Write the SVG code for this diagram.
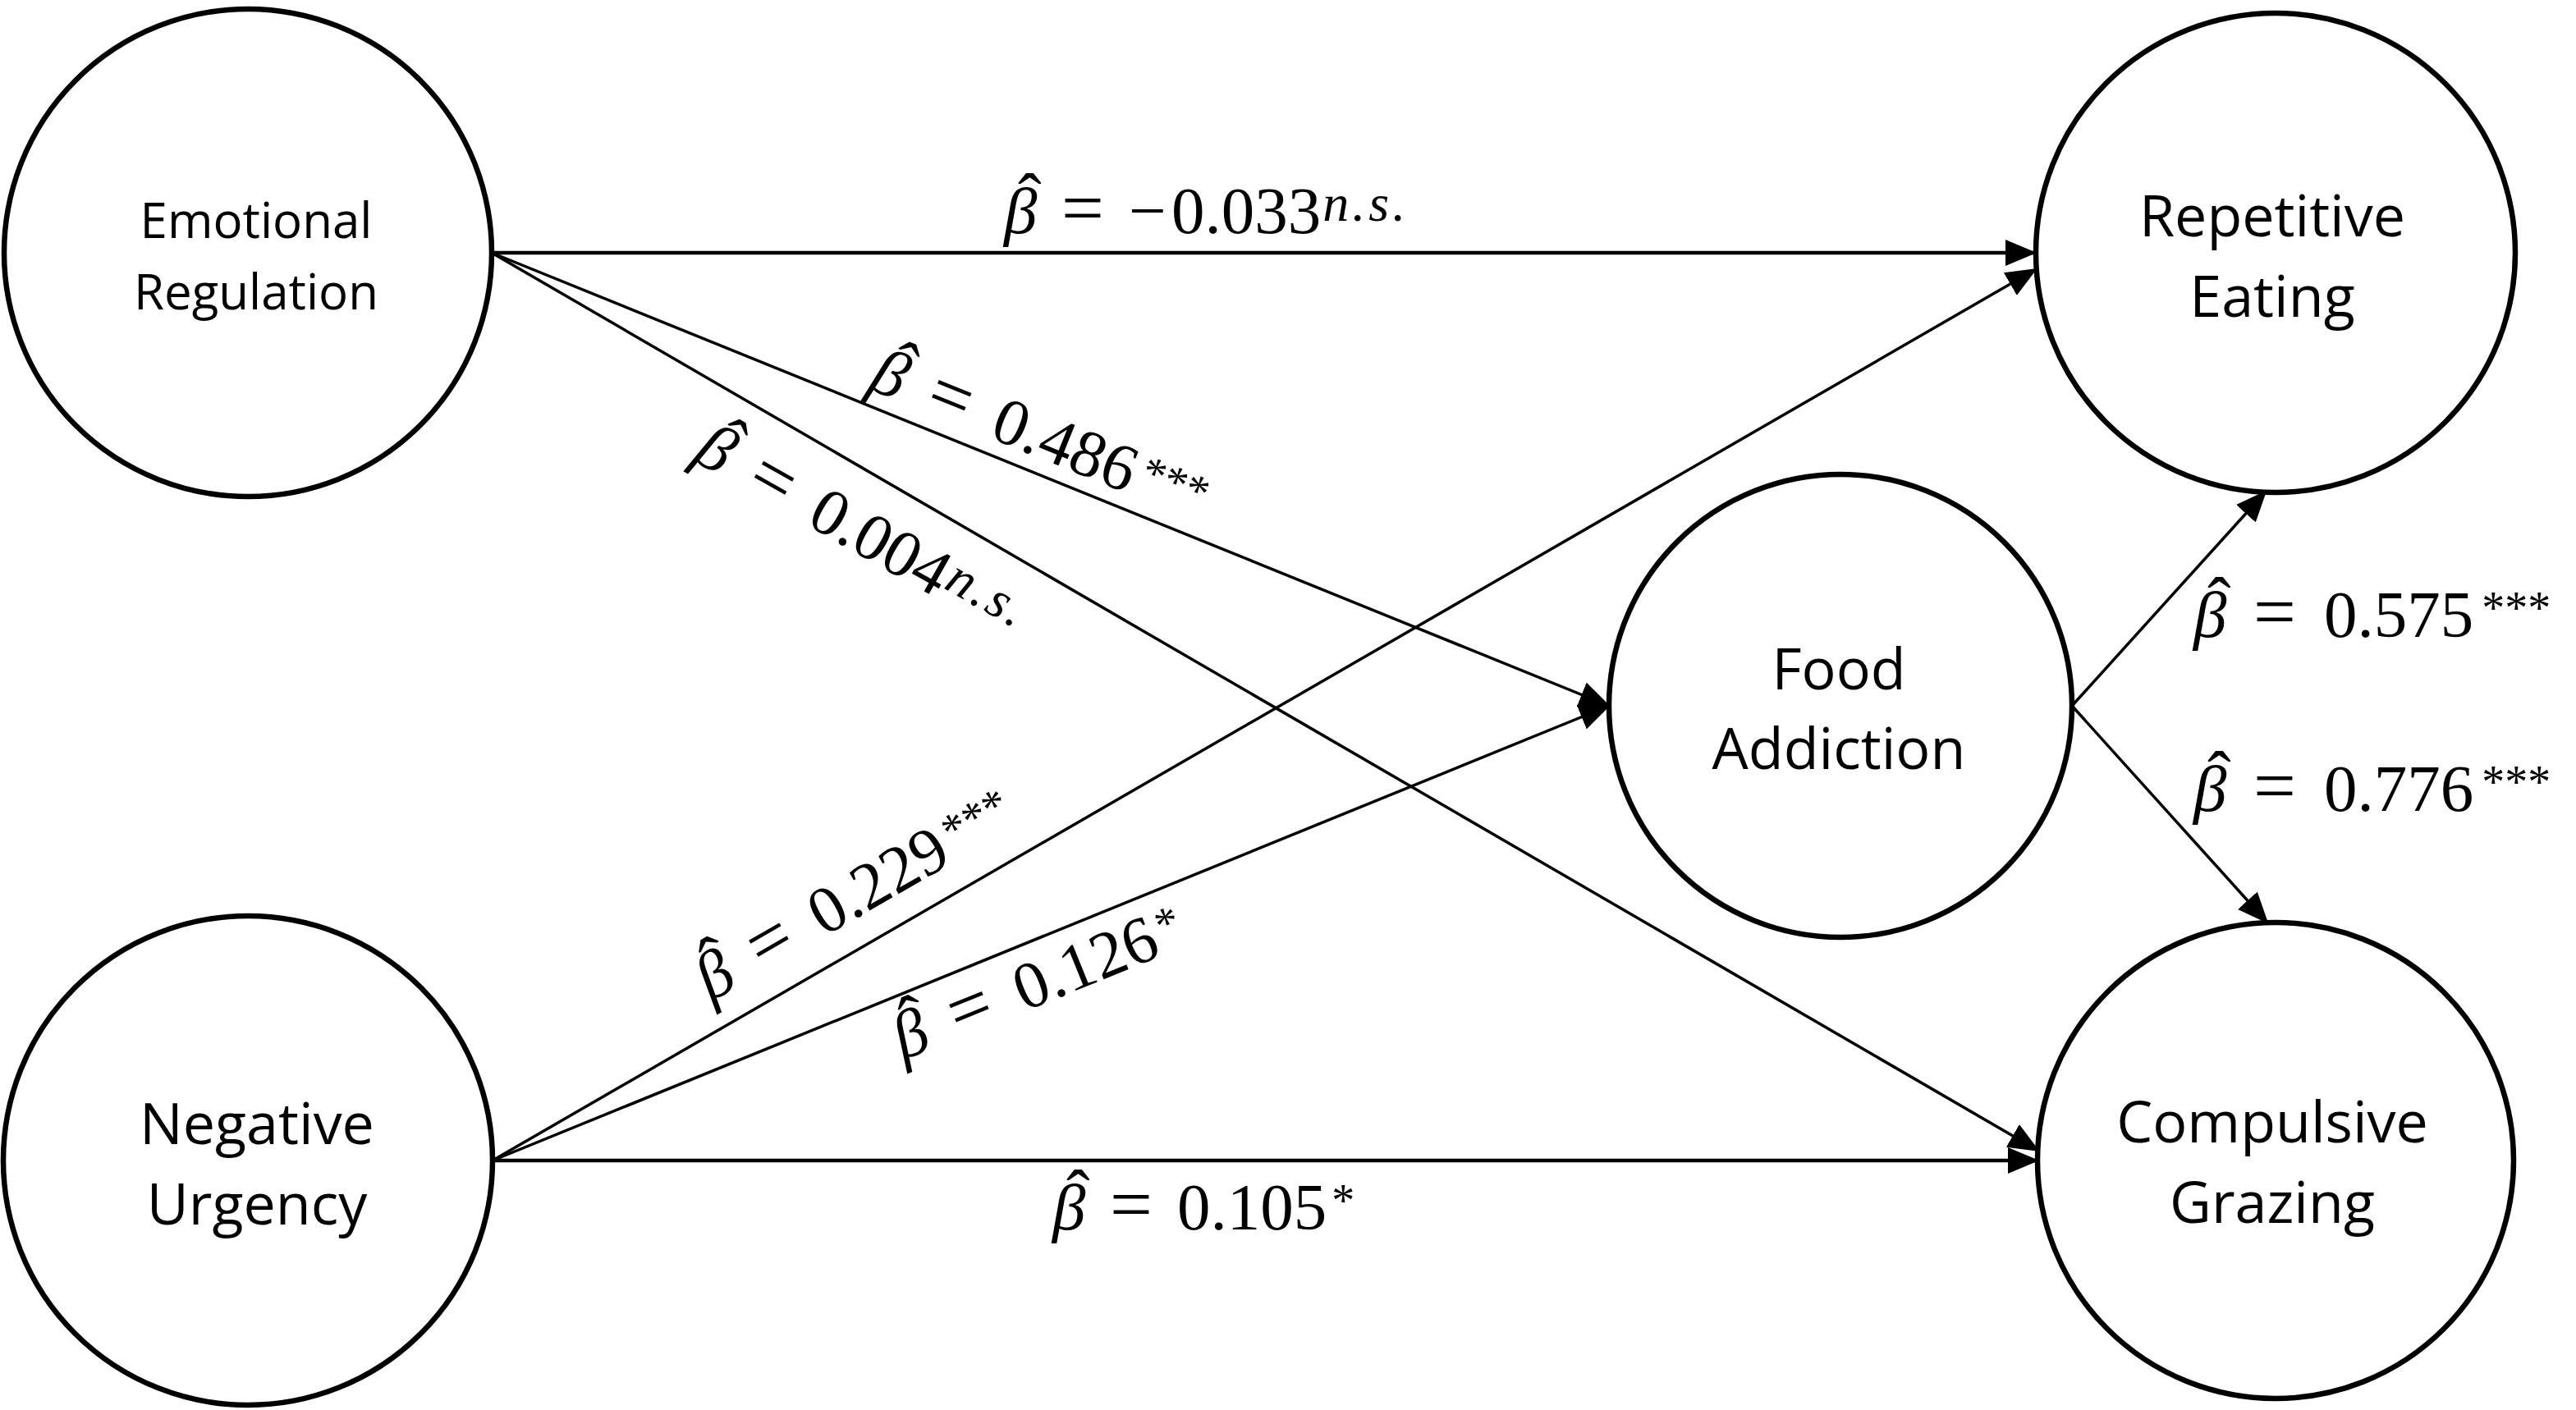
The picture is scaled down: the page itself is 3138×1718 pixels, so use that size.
<svg xmlns="http://www.w3.org/2000/svg" width="3138" height="1718" viewBox="0 0 3138 1718">
<style>
.node circle{fill:#fff;stroke:#000;stroke-width:6.5}
.node text{font-family:"Open Sans",sans-serif;fill:#000;text-anchor:middle}
.edge{stroke:#000;stroke-width:3.5;fill:none;marker-end:url(#ah)}
.edge.h{stroke-width:4.5}
.lbl{font-family:"Liberation Serif",serif;font-size:81px;fill:#000}
.b{font-style:italic}
.hat{font-size:86px}
.eq{font-size:92px}
.sup{font-size:56px}
.ns{font-size:64px;font-style:italic;letter-spacing:4px}
</style>
<defs>
<marker id="ah" markerUnits="userSpaceOnUse" markerWidth="38" markerHeight="32" refX="36" refY="16" orient="auto" viewBox="0 0 38 32"><path d="M0,0 L38,16 L0,32 z" fill="#000"/></marker>
</defs>
<rect width="3138" height="1718" fill="#fff"/>
<g id="connectors">
<line class="edge h" x1="599" y1="308" x2="2479" y2="308"/>
<line class="edge" x1="599" y1="308" x2="1960" y2="860"/>
<line class="edge" x1="599" y1="308" x2="2483" y2="1402"/>
<line class="edge" x1="600" y1="1414" x2="2480" y2="328"/>
<line class="edge" x1="600" y1="1414" x2="1960" y2="860"/>
<line class="edge h" x1="600" y1="1414" x2="2482" y2="1414"/>
<line class="edge" x1="2524" y1="860" x2="2760" y2="599"/>
<line class="edge" x1="2524" y1="860" x2="2762" y2="1124"/>
</g>
<g id="node-er" class="node"><circle cx="302" cy="308" r="297"/><text font-size="60"><tspan x="312" y="290">Emotional</tspan><tspan x="312" y="377">Regulation</tspan></text></g>
<g id="node-nu" class="node"><circle cx="302" cy="1414" r="298"/><text font-size="70"><tspan x="313" y="1394">Negative</tspan><tspan x="313" y="1492">Urgency</tspan></text></g>
<g id="node-re" class="node"><circle cx="2772" cy="308" r="292"/><text font-size="70"><tspan x="2768" y="288">Repetitive</tspan><tspan x="2768" y="386">Eating</tspan></text></g>
<g id="node-fa" class="node"><circle cx="2242" cy="860" r="282"/><text font-size="70"><tspan x="2240" y="840">Food</tspan><tspan x="2240" y="937">Addiction</tspan></text></g>
<g id="node-cg" class="node"><circle cx="2772" cy="1414" r="290"/><text font-size="70"><tspan x="2768" y="1392">Compulsive</tspan><tspan x="2768" y="1490">Grazing</tspan></text></g>
<g id="labels">
<g transform="translate(1223,284)"><text class="lbl" x="0" y="0"><tspan class="b">β</tspan><tspan class="hat" x="17" dy="-12">ˆ</tspan><tspan class="eq" x="70" dy="12">=</tspan><tspan x="152">−</tspan><tspan x="204">0.033</tspan><tspan class="ns" dx="2" dy="-15">n.s.</tspan></text></g>
<g transform="translate(1056,473) rotate(22)"><text class="lbl" x="0" y="0"><tspan class="b">β</tspan><tspan class="hat" x="17" dy="-12">ˆ</tspan><tspan class="eq" x="73" dy="12">=</tspan><tspan x="159">0.486</tspan><tspan class="sup" dx="8" dy="-16">***</tspan></text></g>
<g transform="translate(842,560) rotate(29.5)"><text class="lbl" x="0" y="0"><tspan class="b">β</tspan><tspan class="hat" x="17" dy="-12">ˆ</tspan><tspan class="eq" x="73" dy="12">=</tspan><tspan x="159">0.004</tspan><tspan class="ns" dx="2" dy="-15">n.s.</tspan></text></g>
<g transform="translate(866,1221) rotate(-30)"><text class="lbl" x="0" y="0"><tspan class="b">β</tspan><tspan class="hat" x="17" dy="-12">ˆ</tspan><tspan class="eq" x="73" dy="12">=</tspan><tspan x="159">0.229</tspan><tspan class="sup" dx="8" dy="-16">***</tspan></text></g>
<g transform="translate(1100,1292) rotate(-22)"><text class="lbl" x="0" y="0"><tspan class="b">β</tspan><tspan class="hat" x="17" dy="-12">ˆ</tspan><tspan class="eq" x="73" dy="12">=</tspan><tspan x="159">0.126</tspan><tspan class="sup" dx="6" dy="-16">*</tspan></text></g>
<g transform="translate(1282,1498)"><text class="lbl" x="0" y="0"><tspan class="b">β</tspan><tspan class="hat" x="17" dy="-12">ˆ</tspan><tspan class="eq" x="70" dy="12">=</tspan><tspan x="152">0.105</tspan><tspan class="sup" dx="6" dy="-16">*</tspan></text></g>
<g transform="translate(2672,776)"><text class="lbl" x="0" y="0"><tspan class="b">β</tspan><tspan class="hat" x="17" dy="-12">ˆ</tspan><tspan class="eq" x="73" dy="12">=</tspan><tspan x="159">0.575</tspan><tspan class="sup" dx="10" dy="-16">***</tspan></text></g>
<g transform="translate(2672,988)"><text class="lbl" x="0" y="0"><tspan class="b">β</tspan><tspan class="hat" x="17" dy="-12">ˆ</tspan><tspan class="eq" x="73" dy="12">=</tspan><tspan x="159">0.776</tspan><tspan class="sup" dx="10" dy="-16">***</tspan></text></g>
</g>
</svg>
